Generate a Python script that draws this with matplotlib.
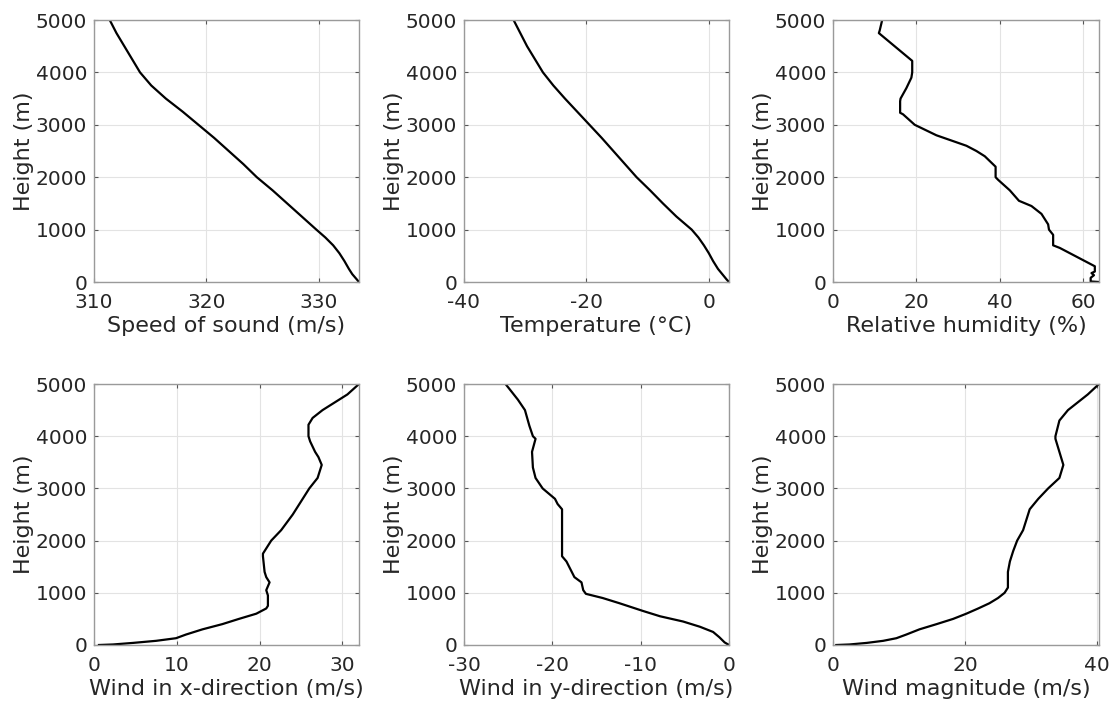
import matplotlib
matplotlib.use("Agg")
import matplotlib.pyplot as plt

# ---------------- data ----------------
h_sound = [5000, 4750, 4500, 4250, 4000, 3750, 3500, 3250, 3000, 2750, 2500, 2250, 2000, 1750, 1500,
           1250, 1000, 850, 700, 550, 400, 250, 150, 50, 0]
sound = [311.4, 312.0, 312.7, 313.4, 314.1, 315.1, 316.4, 317.9, 319.3, 320.7, 322.0, 323.3, 324.5, 325.9,
         327.2, 328.5, 329.8, 330.6, 331.3, 331.85, 332.3, 332.7, 333.0, 333.4, 333.6]

h_temp = [5000, 4750, 4500, 4250, 4000, 3750, 3500, 3250, 3000, 2750, 2500, 2250, 2000, 1750, 1500,
          1250, 1000, 850, 700, 550, 400, 250, 150, 50, 0]
temp = [-31.9, -30.8, -29.7, -28.4, -27.1, -25.4, -23.5, -21.5, -19.5, -17.5, -15.6, -13.7, -11.8, -9.6,
        -7.5, -5.3, -2.8, -1.7, -0.8, 0.0, 0.7, 1.5, 2.2, 2.9, 3.3]

h_rh = [5000, 4800, 4750, 4220, 4000, 3900, 3700, 3500, 3450, 3230, 3200, 3000, 2800, 2600, 2500, 2400,
        2200, 2000, 1950, 1750, 1550, 1450, 1300, 1100, 1000, 900, 700, 650, 550, 450, 350, 300, 200,
        170, 130, 80, 10, 0]
rh = [11.8, 11.2, 11.0, 19.0, 19.0, 18.8, 17.6, 16.2, 16.1, 16.1, 16.8, 19.6, 24.8, 32.0, 34.4, 36.4,
      39.0, 39.0, 39.6, 42.4, 44.6, 47.6, 50.0, 51.6, 51.8, 52.8, 52.8, 54.4, 56.8, 59.2, 61.6, 62.8, 62.8,
      62.0, 62.6, 61.8, 61.8, 63.8]

h_u = [5000, 4800, 4500, 4350, 4220, 4000, 3900, 3700, 3600, 3450, 3200, 3000, 2500, 2200, 2000, 1750,
       1700, 1400, 1300, 1200, 1050, 950, 750, 700, 600, 500, 400, 300, 200, 130, 80, 40, 10, 0]
wind_u = [32.0, 30.6, 27.6, 26.4, 25.9, 25.9, 26.1, 26.7, 27.1, 27.5, 27.0, 26.0, 24.0, 22.6, 21.4, 20.4,
          20.4, 20.6, 20.8, 21.2, 20.8, 21.0, 21.0, 20.8, 19.6, 17.5, 15.5, 13.1, 11.1, 9.9, 7.5, 4.7, 2.3, 0.6]

h_v = [5000, 4700, 4500, 4200, 4000, 3950, 3700, 3400, 3200, 3000, 2800, 2700, 2600, 2000, 1700, 1600,
       1300, 1200, 1050, 980, 900, 800, 650, 550, 450, 350, 250, 150, 50, 0]
wind_v = [-25.3, -23.9, -23.1, -22.6, -22.2, -21.9, -22.3, -22.2, -21.9, -21.1, -19.7, -19.4, -18.9, -18.9,
          -18.9, -18.4, -17.5, -16.7, -16.5, -16.2, -14.3, -12.4, -9.7, -7.8, -5.2, -3.3, -1.8, -1.1, -0.5, 0.0]

h_mag = [5000, 4800, 4500, 4300, 4200, 4000, 3950, 3700, 3450, 3200, 3000, 2800, 2600, 2400, 2200, 2000,
         1800, 1600, 1400, 1100, 1000, 900, 800, 700, 600, 500, 400, 300, 200, 130, 80, 40, 10, 0]
wind_mag = [40.3, 38.6, 35.6, 34.3, 34.1, 33.7, 33.7, 34.3, 34.9, 34.3, 32.6, 31.1, 29.8, 29.3, 28.8, 27.9,
            27.3, 26.8, 26.5, 26.5, 26.0, 25.0, 23.7, 22.0, 20.2, 18.2, 15.7, 13.1, 11.1, 9.6, 7.6, 5.1, 2.5, 0.5]

x_labels = ["Speed of sound (m/s)", "Temperature (°C)", "Relative humidity (%)",
            "Wind in x-direction (m/s)", "Wind in y-direction (m/s)", "Wind magnitude (m/s)"]
x_limits = [(310, 333.6), (-40, 3.3), (0, 63.8), (0, 32.0), (-30, 0), (0, 40.3)]
x_ticks = [[310, 320, 330], [-40, -20, 0], [0, 20, 40, 60], [0, 10, 20, 30], [-30, -20, -10, 0], [0, 20, 40]]
y_ticks = [0, 1000, 2000, 3000, 4000, 5000]

series = [(sound, h_sound), (temp, h_temp), (rh, h_rh), (wind_u, h_u), (wind_v, h_v), (wind_mag, h_mag)]

# ---------------- figure ----------------
W, H = 1111, 702
fig = plt.figure(figsize=(W / 100, H / 100), dpi=100)
plt.rcParams['font.family'] = ['DejaVu Sans']

lefts = [94, 464, 833]
widths = [265, 265, 266]
tops = [20, 384]
heights = [262, 261]

text_col = "#262626"
for i, ((xv, hv), xl, lim, xt) in enumerate(zip(series, x_labels, x_limits, x_ticks)):
    r, c = divmod(i, 3)
    ax = fig.add_axes([lefts[c] / W, (H - tops[r] - heights[r]) / H, widths[c] / W, heights[r] / H])
    ax.plot(xv, hv, color="black", lw=1.6)
    ax.set_xlim(*lim)
    ax.set_ylim(0, 5000)
    ax.set_xticks(xt)
    ax.set_xticklabels([str(t) for t in xt])
    ax.set_yticks(y_ticks)
    ax.grid(True, color="#e3e3e3", lw=0.8)
    ax.set_axisbelow(True)
    for s in ax.spines.values():
        s.set_color("#9a9a9a")
        s.set_linewidth(1.0)
    ax.tick_params(direction="in", top=True, right=True, length=3, color="#555555",
                   labelsize=14.5, labelcolor=text_col)
    ax.tick_params(axis="x", pad=8)
    ax.tick_params(axis="y", pad=5)
    ax.set_xlabel(xl, fontsize=16, color=text_col, labelpad=3)
    ax.set_ylabel("Height (m)", fontsize=16, color=text_col, labelpad=1)

fig.savefig("out.png", dpi=100)
